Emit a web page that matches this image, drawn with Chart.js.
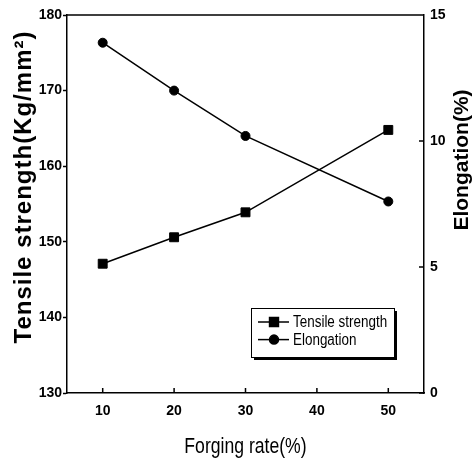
<!DOCTYPE html>
<html>
<head>
<meta charset="utf-8">
<script src="https://cdn.jsdelivr.net/npm/chart.js@4.4.1/dist/chart.umd.min.js"></script>
<style>
  html, body { margin: 0; padding: 0; background: #fff; }
  #wrap { width: 476px; height: 463px; }
</style>
</head>
<body>
<div id="wrap"><canvas id="chart"></canvas></div>
<script>
// valores
const forgingRate = [10, 20, 30, 50];
const tensileStrength = [147.1, 150.6, 153.9, 164.8];
const elongation = [13.9, 12.0, 10.2, 7.6];
const xTicks = [10, 20, 30, 40, 50];
const leftTicks = [130, 140, 150, 160, 170, 180];
const rightTicks = [0, 5, 10, 15];

const arial = '"Liberation Sans", Arial, sans-serif';

function toPoints(xs, ys) {
  return xs.map((x, i) => ({ x: x, y: ys[i] }));
}

// texto comprimido na horizontal (a fonte narrow não existe aqui)
function narrowText(ctx, text, x, y, sx) {
  ctx.save();
  ctx.translate(x, y);
  ctx.scale(sx, 1);
  ctx.fillText(text, 0, 0);
  ctx.restore();
}

// moldura, ticks internos, títulos dos eixos e legenda
const framePlugin = {
  id: "frame",
  afterDraw(chart) {
    const { ctx, chartArea: a, scales } = chart;
    ctx.save();
    ctx.strokeStyle = "#000";
    ctx.lineWidth = 1.5;
    ctx.beginPath();
    ctx.moveTo(a.left, a.top);
    ctx.lineTo(a.right, a.top);
    xTicks.forEach((v) => {
      const px = scales.x.getPixelForValue(v);
      ctx.moveTo(px, a.bottom);
      ctx.lineTo(px, a.bottom - 5);
    });
    rightTicks.forEach((v) => {
      const py = scales.y2.getPixelForValue(v);
      ctx.moveTo(a.right, py);
      ctx.lineTo(a.right - 5, py);
    });
    ctx.stroke();

    // títulos
    ctx.fillStyle = "#000";
    ctx.textAlign = "center";
    ctx.textBaseline = "middle";
    ctx.save();
    ctx.translate(24, 187);
    ctx.rotate(-Math.PI / 2);
    ctx.font = "bold 24px " + arial;
    ctx.letterSpacing = "1px";
    ctx.fillText("Tensile strength(Kg/mm²)", 0, 0);
    ctx.restore();

    ctx.save();
    ctx.translate(462, 160);
    ctx.rotate(-Math.PI / 2);
    ctx.font = "bold 21px " + arial;
    ctx.fillText("Elongation(%)", 0, 0);
    ctx.restore();

    ctx.font = "22px " + arial;
    narrowText(ctx, "Forging rate(%)", (a.left + a.right) / 2, 447, 0.8);

    // legenda
    const lx = a.right - 173, ly = a.bottom - 85, lw = 143, lh = 49;
    ctx.fillStyle = "#000";
    ctx.fillRect(lx + 3, ly + 3, lw, lh);
    ctx.fillStyle = "#fff";
    ctx.fillRect(lx, ly, lw, lh);
    ctx.lineWidth = 1;
    ctx.strokeRect(lx + 0.5, ly + 0.5, lw, lh);
    chart.data.datasets.forEach((ds, i) => {
      const yy = ly + 14 + i * 17.6;
      ctx.lineWidth = 1.5;
      ctx.beginPath();
      ctx.moveTo(lx + 7, yy);
      ctx.lineTo(lx + 38, yy);
      ctx.stroke();
      ctx.fillStyle = "#000";
      Chart.helpers.drawPoint(ctx, {
        pointStyle: ds.pointStyle,
        radius: ds.pointRadius,
        rotation: 0,
        borderWidth: 1,
      }, lx + 23, yy);
      ctx.font = "16px " + arial;
      ctx.textAlign = "left";
      narrowText(ctx, ds.label, lx + 42, yy + 1, 0.84);
    });
    ctx.restore();
  },
};

const tickFont = { family: arial, size: 14, weight: "bold" };

new Chart(document.getElementById("chart"), {
  type: "line",
  data: {
    datasets: [
      {
        label: "Tensile strength",
        data: toPoints(forgingRate, tensileStrength),
        yAxisID: "y",
        borderColor: "#000",
        backgroundColor: "#000",
        borderWidth: 1.5,
        pointStyle: "rect",
        pointRadius: 6.3,
        pointBorderWidth: 1,
        tension: 0,
      },
      {
        label: "Elongation",
        data: toPoints(forgingRate, elongation),
        yAxisID: "y2",
        borderColor: "#000",
        backgroundColor: "#000",
        borderWidth: 1.5,
        pointStyle: "circle",
        pointRadius: 4.5,
        pointBorderWidth: 1,
        tension: 0,
      },
    ],
  },
  options: {
    responsive: true,
    maintainAspectRatio: false,
    animation: false,
    layout: { padding: { top: 15, left: 0, right: 0, bottom: 0 } },
    plugins: { legend: { display: false }, tooltip: { enabled: false } },
    scales: {
      x: {
        type: "linear",
        min: 5,
        max: 55,
        afterBuildTicks: (s) => { s.ticks = xTicks.map((v) => ({ value: v })); },
        afterFit: (s) => { s.height = 70; },
        grid: { display: false, drawTicks: false },
        border: { display: true, color: "#000", width: 1.5 },
        ticks: { color: "#000", padding: 10, font: tickFont },
      },
      y: {
        position: "left",
        min: 130,
        max: 180,
        afterBuildTicks: (s) => { s.ticks = leftTicks.map((v) => ({ value: v })); },
        afterFit: (s) => { s.width = 67; },
        grid: { drawOnChartArea: false, tickLength: 4, color: "#000", tickWidth: 1.5 },
        border: { display: true, color: "#000", width: 1.5 },
        ticks: { color: "#000", padding: 1, font: tickFont },
      },
      y2: {
        position: "right",
        min: 0,
        max: 15,
        afterBuildTicks: (s) => { s.ticks = rightTicks.map((v) => ({ value: v })); },
        afterFit: (s) => { s.width = 52; },
        grid: { display: false, drawTicks: false },
        border: { display: true, color: "#000", width: 1.5 },
        ticks: { color: "#000", padding: 6, font: tickFont },
      },
    },
  },
  plugins: [framePlugin],
});
</script>
</body>
</html>
